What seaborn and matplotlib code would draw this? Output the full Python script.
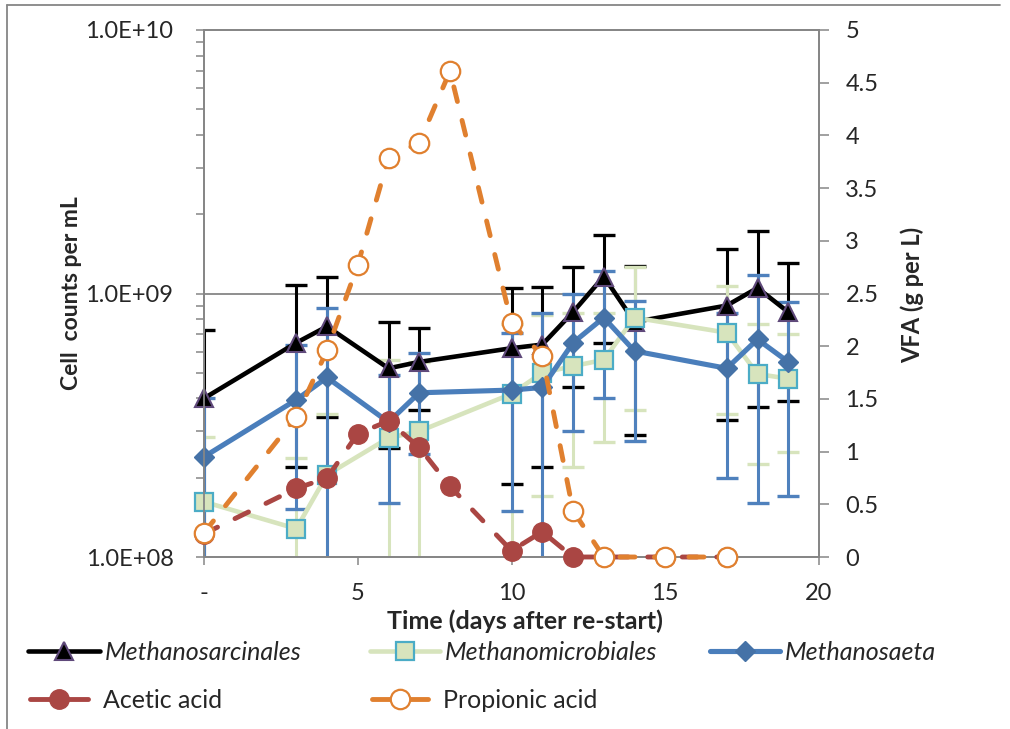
import numpy as np
import pandas as pd
import matplotlib
matplotlib.use("Agg")
import matplotlib.pyplot as plt
from matplotlib.lines import Line2D
from matplotlib.ticker import FixedLocator, LogLocator, NullFormatter
import seaborn as sns

# ---------------- data ----------------
days_cells = [0, 3, 4, 6, 7, 10, 11, 12, 13, 14, 17, 18, 19]
sarc = [4.0e8, 6.5e8, 7.5e8, 5.2e8, 5.5e8, 6.2e8, 6.4e8, 8.5e8, 1.16e9, 7.8e8, 9.0e8, 1.05e9, 8.5e8]
sarc_err = [3.3e8, 4.3e8, 4.1e8, 2.6e8, 1.9e8, 4.3e8, 4.2e8, 4.1e8, 5.1e8, 4.9e8, 5.7e8, 6.8e8, 4.6e8]
micro = [1.62e8, 1.28e8, 2.05e8, 2.83e8, 3.0e8, 4.16e8, 5.0e8, 5.3e8, 5.6e8, 8.1e8, 7.1e8, 4.95e8, 4.75e8]
micro_err = [1.23e8, 1.1e8, 1.45e8, 2.77e8, 2.5e8, 3.5e8, 3.3e8, 3.1e8, 2.87e8, 4.5e8, 3.6e8, 2.7e8, 2.25e8]
saeta = [2.4e8, 3.95e8, 4.8e8, 3.25e8, 4.2e8, 4.3e8, 4.4e8, 6.5e8, 8.1e8, 6.05e8, 5.2e8, 6.7e8, 5.5e8]
saeta_err = [1.6e8, 2.43e8, 4.0e8, 1.65e8, 1.75e8, 2.8e8, 4.0e8, 3.5e8, 4.1e8, 3.3e8, 3.2e8, 5.1e8, 3.8e8]

days_vfa = [0, 3, 4, 5, 6, 7, 8, 10, 11, 12, 13, 15, 17]
acetic = [0.22, 0.65, 0.75, 1.17, 1.29, 1.04, 0.67, 0.06, 0.24, 0.0, 0.0, 0.0, 0.0]
propionic = [0.23, 1.33, 1.96, 2.77, 3.79, 3.93, 4.61, 2.22, 1.91, 0.44, 0.0, 0.0, 0.0]

left_ticks = [1e8, 1e9, 1e10]
left_labels = ["1.0E+08", "1.0E+09", "1.0E+10"]
right_ticks = [0, 0.5, 1, 1.5, 2, 2.5, 3, 3.5, 4, 4.5, 5]
right_labels = ["0", "0.5", "1", "1.5", "2", "2.5", "3", "3.5", "4", "4.5", "5"]
x_ticks = [0, 5, 10, 15, 20]
x_labels = ["-", "5", "10", "15", "20"]

names = ["Methanosarcinales", "Methanomicrobiales", "Methanosaeta", "Acetic acid", "Propionic acid"]

# ---------------- style ----------------
sns.set_style("white")
plt.rcParams["font.family"] = ["Lato", "DejaVu Sans"]
GRAY = "#868686"
C_BLACK = "#000000"
C_TRI_EDGE = "#5F497A"
C_GREEN = "#D7E4BD"
C_SQ_EDGE = "#4BACC6"
C_BLUE = "#4A7EBB"
C_BLUE_M = "#4572A7"
C_RED = "#AA4643"
C_ORANGE = "#E0802F"

W, H = 1010, 729
fig = plt.figure(figsize=(W / 100, H / 100), dpi=100)
L, R, T, B = 204, 819, 30, 557
ax = fig.add_axes([L / W, 1 - B / H, (R - L) / W, (B - T) / H])
ax2 = ax.twinx()

df_c = pd.DataFrame({"day": days_cells, "sarc": sarc, "micro": micro, "saeta": saeta})
df_v = pd.DataFrame({"day": days_vfa, "acetic": acetic, "propionic": propionic})

# error bars (clipped to axes, behind lines)
eb_kw = dict(fmt="none", elinewidth=2.2, capsize=8, capthick=2.4, zorder=2)
ax.errorbar(days_cells, sarc, yerr=sarc_err, ecolor=C_BLACK, **eb_kw)
ax.errorbar(days_cells, micro, yerr=micro_err, ecolor=C_GREEN, **eb_kw)
ax.errorbar(days_cells, saeta, yerr=saeta_err, ecolor="#4F81BD", **eb_kw)

sns.lineplot(data=df_c, x="day", y="sarc", ax=ax, sort=False, errorbar=None, legend=False,
             color=C_BLACK, lw=3.3, marker="^", ms=13, mfc=C_BLACK, mec=C_TRI_EDGE, mew=1.5,
             clip_on=False, zorder=3)
sns.lineplot(data=df_c, x="day", y="micro", ax=ax, sort=False, errorbar=None, legend=False,
             color=C_GREEN, lw=3.3, marker="s", ms=13, mfc=C_GREEN, mec=C_SQ_EDGE, mew=1.6,
             clip_on=False, zorder=4)
sns.lineplot(data=df_c, x="day", y="saeta", ax=ax, sort=False, errorbar=None, legend=False,
             color=C_BLUE, lw=3.7, marker="D", ms=10, mfc=C_BLUE_M, mec=C_BLUE_M, mew=1,
             clip_on=False, zorder=5)

DLW = 3.5
dash = (3.1, 4.0)
sns.lineplot(data=df_v, x="day", y="acetic", ax=ax2, sort=False, errorbar=None, legend=False,
             color=C_RED, lw=DLW, marker="o", ms=14, mfc=C_RED, mec=C_RED, mew=1,
             dash_capstyle="round", clip_on=False, zorder=6)
sns.lineplot(data=df_v, x="day", y="propionic", ax=ax2, sort=False, errorbar=None, legend=False,
             color=C_ORANGE, lw=DLW, marker="o", ms=14, mfc="white", mec=C_ORANGE, mew=1.6,
             dash_capstyle="round", clip_on=False, zorder=7)
for ln in ax2.lines:
    ln.set_dashes(dash)
    ln.set_dash_capstyle("round")

ax.set_zorder(1)
ax2.set_zorder(2)
ax2.patch.set_visible(False)

# ---------------- axes ----------------
ax.set_xlim(0, 20)
ax.set_yscale("log")
ax.set_ylim(1e8, 1e10)
ax2.set_ylim(0, 5)

FS = 17
ax.set_xticks(x_ticks)
ax.set_xticklabels(x_labels, fontsize=FS)
ax.yaxis.set_major_locator(FixedLocator(left_ticks))
ax.set_yticklabels(left_labels, fontsize=FS)
ax.yaxis.set_minor_locator(LogLocator(base=10, subs=np.arange(2, 10)))
ax.yaxis.set_minor_formatter(NullFormatter())
ax2.set_yticks(right_ticks)
ax2.set_yticklabels(right_labels, fontsize=FS)

ax.tick_params(axis="x", which="major", direction="out", length=6, width=1.1, color=GRAY, pad=13, bottom=True)
ax.tick_params(axis="y", which="major", direction="out", length=6, width=1.1, color=GRAY, pad=16, left=True)
ax.tick_params(axis="y", which="minor", direction="out", length=6, width=1.1, color=GRAY, left=True)
ax2.tick_params(axis="y", which="major", direction="out", length=7, width=1.1, color=GRAY, pad=12, right=True)

for a in (ax, ax2):
    for s in a.spines.values():
        s.set_color(GRAY)
        s.set_linewidth(1.3)
        s.set_visible(True)

ax.grid(False)
ax2.grid(False)
ax.axhline(1e9, color=GRAY, lw=1.3, zorder=1)

ax.set_xlabel("")
ax.set_ylabel("")
ax2.set_ylabel("")
fig.text(525 / W, 1 - 621 / H, "Time (days after re-start)", fontsize=18,
         fontweight="bold", ha="center", va="center")
fig.text(72 / W, 1 - 293 / H, "Cell  counts per mL", rotation=90, fontsize=16.5,
         fontweight="bold", ha="center", va="center")
fig.text(912 / W, 1 - 295 / H, "VFA (g per L)", rotation=90, fontsize=17,
         fontweight="bold", ha="center", va="center")

# ---------------- legend ----------------
handles = [
    Line2D([0], [0], color=C_BLACK, lw=3.3, marker="^", ms=13, mfc=C_BLACK, mec=C_TRI_EDGE, mew=1.5),
    Line2D([0], [0], color=C_GREEN, lw=3.3, marker="s", ms=13, mfc=C_GREEN, mec=C_SQ_EDGE, mew=1.6),
    Line2D([0], [0], color=C_BLUE, lw=3.7, marker="D", ms=10, mfc=C_BLUE_M, mec=C_BLUE_M),
    Line2D([0], [0], color=C_RED, lw=DLW, marker="o", ms=14, mfc=C_RED, mec=C_RED,
           solid_capstyle="round"),
    Line2D([0], [0], color=C_ORANGE, lw=DLW, marker="o", ms=14, mfc="white", mec=C_ORANGE, mew=1.6,
           solid_capstyle="round"),
]
# (left x of handle, y centre, handle length px, gap px, italic)
slots = [(28, 652, 72, 5, True), (370, 652, 70, 5, True), (710, 652, 70, 5, True),
         (30, 700, 58, 15, False), (372, 700, 56, 15, False)]
LFS = 18
em = LFS * 100 / 72
for h, name, (x0, yc, hl, gap, it) in zip(handles, names, slots):
    fig.legend([h], [name], loc="center left", bbox_to_anchor=(x0 / W, 1 - yc / H),
               frameon=False, borderpad=0, borderaxespad=0, handlelength=hl / em,
               handletextpad=gap / em,
               prop={"size": LFS, "style": "italic" if it else "normal"})

# outer chart border (top and left edges visible)
fig.add_artist(Line2D([7 / W, 1000 / W], [1 - 5 / H, 1 - 5 / H], transform=fig.transFigure,
                      color=GRAY, lw=1.3))
fig.add_artist(Line2D([7 / W, 7 / W], [0, 1 - 5 / H], transform=fig.transFigure,
                      color=GRAY, lw=1.3))

fig.savefig("out.png", dpi=100)
